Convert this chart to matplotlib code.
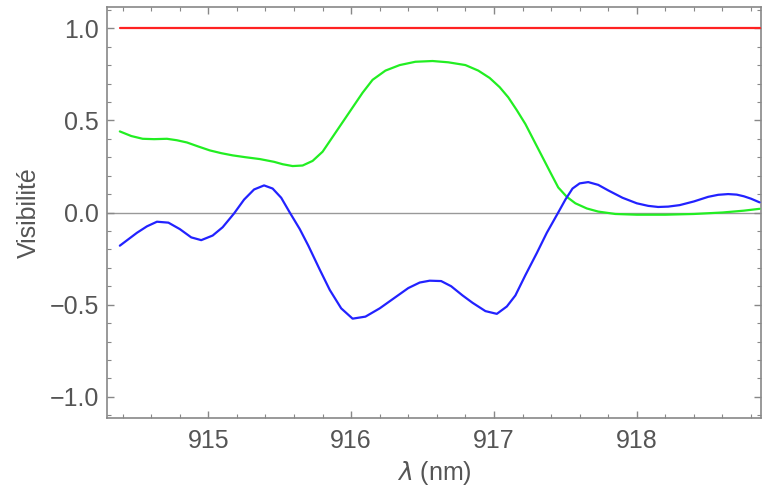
import matplotlib
matplotlib.use("Agg")
import matplotlib.pyplot as plt
from matplotlib.ticker import MultipleLocator

plt.rcParams['font.family'] = ['Liberation Sans', 'DejaVu Sans']

red_x = [914.38, 918.86]
red_y = [1.0, 1.0]

green_x = [914.38, 914.46, 914.54, 914.62, 914.71, 914.78, 914.85, 914.93, 915.01, 915.09,
           915.17, 915.26, 915.36, 915.46, 915.52, 915.59, 915.66, 915.73, 915.80, 915.87,
           915.94, 916.01, 916.08, 916.15, 916.24, 916.34, 916.45, 916.57, 916.68, 916.80,
           916.89, 916.97, 917.04, 917.10, 917.16, 917.22, 917.28, 917.34, 917.40, 917.45,
           917.51, 917.57, 917.65, 917.73, 917.85, 918.0, 918.2, 918.4, 918.6, 918.75, 918.86]
green_y = [0.44, 0.415, 0.40, 0.398, 0.40, 0.392, 0.38, 0.358, 0.337, 0.322,
           0.31, 0.30, 0.29, 0.275, 0.262, 0.252, 0.255, 0.28, 0.33, 0.41,
           0.49, 0.57, 0.65, 0.72, 0.77, 0.80, 0.818, 0.822, 0.815, 0.80,
           0.77, 0.73, 0.68, 0.625, 0.555, 0.48, 0.39, 0.30, 0.21, 0.136,
           0.085, 0.05, 0.022, 0.005, -0.008, -0.012, -0.012, -0.008, 0.0, 0.01, 0.02]

blue_x = [914.38, 914.44, 914.50, 914.57, 914.64, 914.72, 914.80, 914.88, 914.95, 915.03,
          915.10, 915.18, 915.25, 915.32, 915.39, 915.45, 915.51, 915.57, 915.64, 915.70,
          915.78, 915.85, 915.93, 916.01, 916.10, 916.20, 916.30, 916.40, 916.48, 916.55,
          916.63, 916.70, 916.78, 916.85, 916.94, 917.02, 917.09, 917.15, 917.22, 917.30,
          917.37, 917.45, 917.50, 917.55, 917.60, 917.66, 917.73, 917.80, 917.90, 918.0,
          918.08, 918.15, 918.22, 918.30, 918.40, 918.50, 918.57, 918.64, 918.70, 918.75,
          918.80, 918.86]
blue_y = [-0.18, -0.145, -0.11, -0.075, -0.05, -0.055, -0.09, -0.135, -0.15, -0.125,
          -0.08, -0.005, 0.07, 0.125, 0.147, 0.13, 0.08, 0.0, -0.09, -0.18,
          -0.31, -0.42, -0.52, -0.576, -0.565, -0.52, -0.465, -0.41, -0.38, -0.37,
          -0.372, -0.40, -0.45, -0.49, -0.535, -0.55, -0.51, -0.45, -0.34, -0.22,
          -0.11, 0.0, 0.07, 0.13, 0.158, 0.165, 0.15, 0.12, 0.08, 0.05,
          0.036, 0.03, 0.032, 0.04, 0.06, 0.085, 0.096, 0.10, 0.097, 0.088,
          0.075, 0.055]

fig = plt.figure(figsize=(7.62, 4.91), dpi=100)
ax = fig.add_axes([0.1404, 0.1487, 0.8583, 0.8370])

ax.axhline(0, color='#999999', lw=1.0, zorder=1)
line_kw = dict(lw=1.6, zorder=3, solid_joinstyle='round', solid_capstyle='round')
ax.plot(red_x, red_y, color='#ff2222', **line_kw)
ax.plot(green_x, green_y, color='#22ee22', **line_kw)
ax.plot(blue_x, blue_y, color='#2222ff', **line_kw)

ax.set_xlim(914.29, 918.87)
ax.set_ylim(-1.115, 1.115)

ax.xaxis.set_major_locator(MultipleLocator(1))
ax.xaxis.set_minor_locator(MultipleLocator(0.2))
ax.yaxis.set_major_locator(MultipleLocator(0.5))
ax.yaxis.set_minor_locator(MultipleLocator(0.1))
ax.yaxis.set_major_formatter(matplotlib.ticker.FuncFormatter(lambda v, p: f"{v:.1f}".replace('-', '\u2212')))

frame_c = '#888888'
for s in ax.spines.values():
    s.set_color(frame_c)
    s.set_linewidth(1.2)
ax.tick_params(which='both', direction='in', color=frame_c, top=True, right=True,
               labelcolor='#555555', labelsize=18)
ax.tick_params(which='major', length=5, width=1)
ax.tick_params(which='minor', length=3, width=0.8)
ax.tick_params(axis='x', pad=8)
ax.tick_params(axis='y', pad=6)

ax.set_xlabel(r'$\lambda$ (nm)', fontsize=18, color='#555555', labelpad=4)
ax.set_ylabel('Visibilité', fontsize=18, color='#555555', labelpad=6)

fig.savefig('out.png', dpi=100)
